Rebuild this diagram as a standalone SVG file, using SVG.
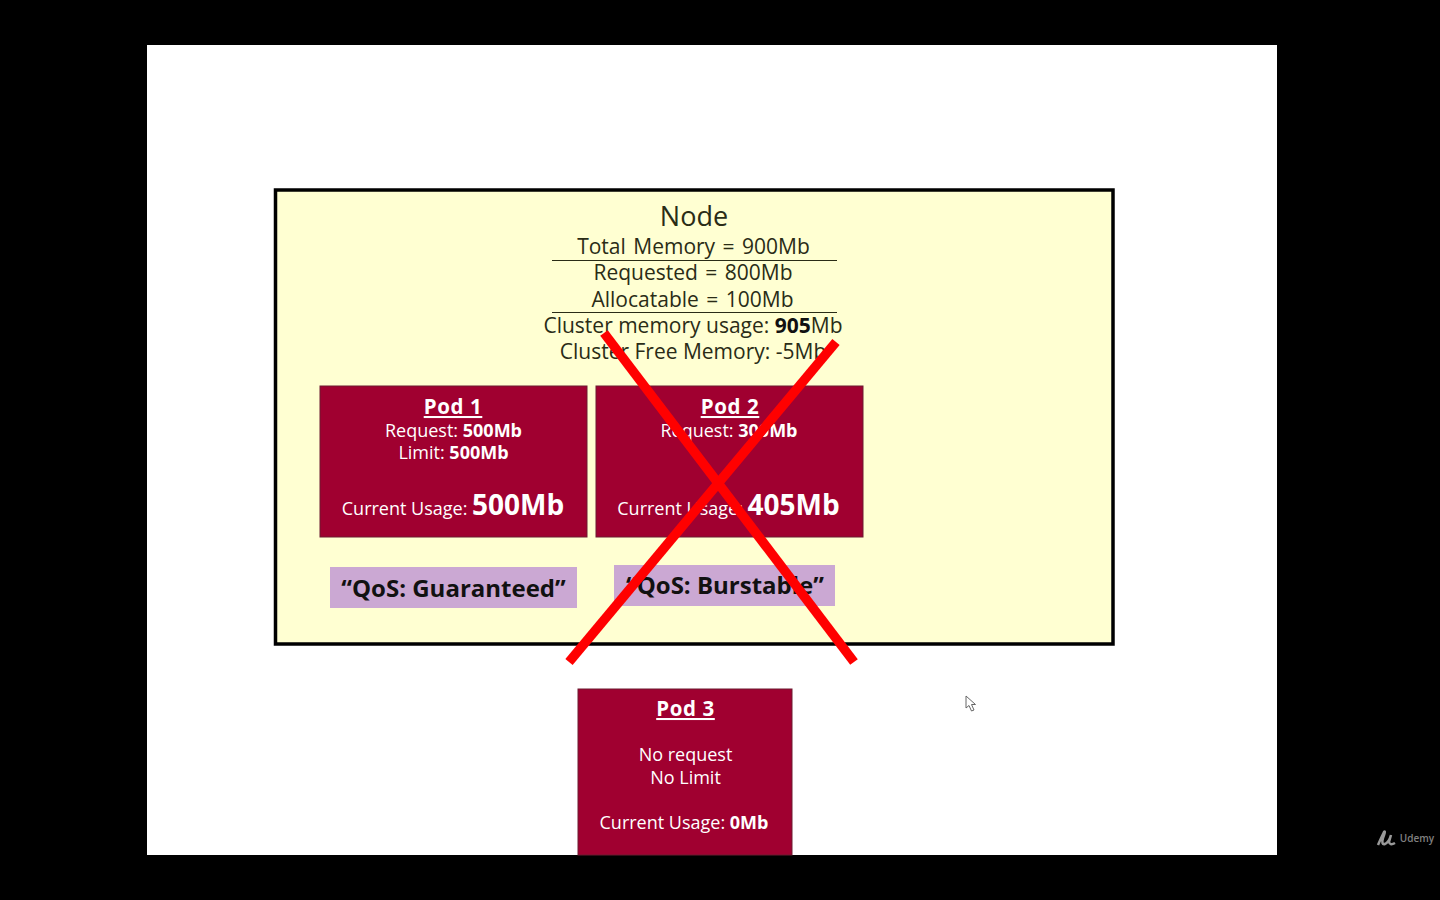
<svg xmlns="http://www.w3.org/2000/svg" width="1440" height="900" viewBox="0 0 1440 900">
<style>
text{font-family:"Open Sans","Noto Sans","Liberation Sans",sans-serif;text-anchor:middle}
.d{fill:#2a2c16;font-size:21px}
.w{fill:#fff;font-size:18px}
.b{font-weight:700}
.t{fill:#fff;font-size:20.500px;font-weight:700;letter-spacing:.6px;text-decoration:underline}
.u{fill:#fff;font-size:28px;font-weight:700}
.q{fill:#111;font-size:24px;font-weight:700}
.pod{fill:#a00030;stroke:#6d1a30;stroke-width:1}
.qos{fill:#cba8d3}
.rule{stroke:#2a2c16;stroke-width:1;fill:none}
.x{stroke:#f00;stroke-width:9.500;fill:none}
</style>
<rect width="1440" height="900" fill="#000"/>
<rect x="147" y="45" width="1130" height="810" fill="#fff"/>
<g id="node">
<rect x="275.500" y="190" width="837.500" height="454" fill="#ffffd2" stroke="#000" stroke-width="3.500"/>
<text x="694" y="225.500" class="d" style="font-size:27px">Node</text>
<text x="693.500" y="254" class="d" word-spacing="2">Total Memory = 900Mb</text>
<line x1="552" y1="260.500" x2="837" y2="260.500" class="rule"/>
<text x="693" y="280" class="d" word-spacing="2">Requested = 800Mb</text>
<text x="692.500" y="307" class="d" word-spacing="2">Allocatable = 100Mb</text>
<line x1="552" y1="312.500" x2="837" y2="312.500" class="rule"/>
<text x="693" y="333" class="d">Cluster memory usage: <tspan class="b" fill="#111">905</tspan>Mb</text>
<text x="693" y="359" class="d">Cluster Free Memory: -5Mb</text>
</g>
<g id="pod1">
<rect x="320" y="386" width="267" height="151" class="pod"/>
<text x="453" y="414" class="t">Pod 1</text>
<text x="453.500" y="436.500" class="w">Request: <tspan class="b">500Mb</tspan></text>
<text x="453.500" y="459" class="w">Limit: <tspan class="b">500Mb</tspan></text>
<text x="453" y="514.500" class="w">Current Usage: <tspan class="u">500Mb</tspan></text>
</g>
<g id="pod2">
<rect x="596" y="386" width="267" height="151" class="pod"/>
<text x="730" y="414" class="t">Pod 2</text>
<text x="729" y="436.500" class="w">Request: <tspan class="b">300Mb</tspan></text>
<text x="728.500" y="514.500" class="w">Current Usage: <tspan class="u">405Mb</tspan></text>
</g>
<g id="qos1">
<rect x="330" y="567" width="247" height="41" class="qos"/>
<text x="453.500" y="597" class="q">“QoS: Guaranteed”</text>
</g>
<g id="qos2">
<rect x="614" y="565" width="221" height="41" class="qos"/>
<text x="725" y="594" class="q">“QoS: Burstable”</text>
</g>
<g id="pod3">
<rect x="578" y="689" width="214" height="166" class="pod"/>
<text x="685.500" y="716" class="t">Pod 3</text>
<text x="685.500" y="761" class="w">No request</text>
<text x="685.500" y="784" class="w">No Limit</text>
<text x="684" y="829" class="w">Current Usage: <tspan class="b">0Mb</tspan></text>
</g>
<g id="connectors">
<line x1="604" y1="333" x2="854" y2="662" class="x"/>
<line x1="836" y1="342" x2="569" y2="662" class="x"/>
</g>
<g id="cursor">
<path d="M966 696V708L969 705.500L971.500 711L974 710L971.500 704.500L975.500 704.500Z" fill="#fff" stroke="#666" stroke-width="1"/>
</g>
<g id="watermark">
<path d="M1378 845Q1381 838 1384 832Q1386 830 1383 838Q1381 845 1385 844Q1389 842 1391 835L1389 842Q1390 846 1395 843" fill="none" stroke="#999" stroke-width="2.500"/>
<text x="1417" y="842" style="fill:#808080;font-size:10px;font-weight:600">Udemy</text>
</g>
</svg>
